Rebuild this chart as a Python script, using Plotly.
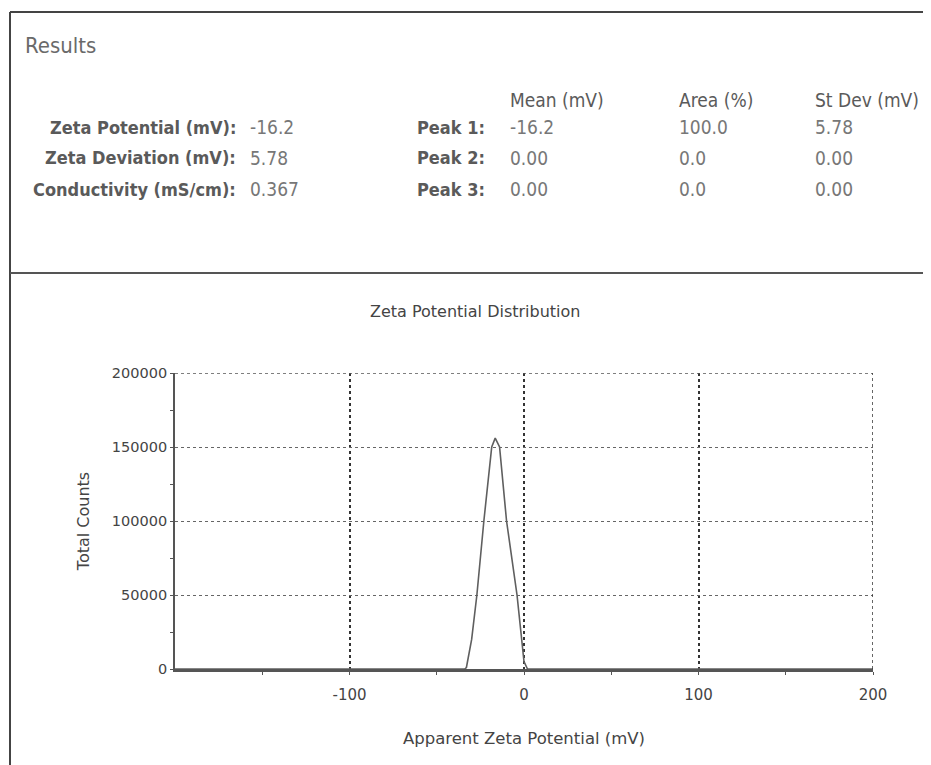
import plotly.graph_objects as go

# ---- data ----
potential_mv = [-200, -34, -33, -30, -27, -23, -18.5, -16.5, -14, -10, -4, 0, 2, 200]
total_counts = [0, 0, 1000, 20000, 50000, 100000, 150000, 156000, 150000, 100000, 50000, 5000, 0, 0]

summary_labels = ["Zeta Potential (mV):", "Zeta Deviation (mV):", "Conductivity (mS/cm):"]
summary_values = ["-16.2", "5.78", "0.367"]
peak_labels = ["Peak 1:", "Peak 2:", "Peak 3:"]
peak_mean = ["-16.2", "0.00", "0.00"]
peak_area = ["100.0", "0.0", "0.0"]
peak_sd = ["5.78", "0.00", "0.00"]
col_headers = ["Mean (mV)", "Area (%)", "St Dev (mV)"]

x_ticks = [-100, 0, 100, 200]
x_tick_labels = ["-100", "0", "100", "200"]
x_minor = [-150, -50, 50, 150]
y_ticks = [0, 50000, 100000, 150000, 200000]
y_tick_labels = ["0", "50000", "100000", "150000", "200000"]
y_minor = [25000, 75000, 125000, 175000]
x_range = [-200, 200]
y_range = [0, 200000]

W, H = 931, 765
OFF = 8  # page body margin of the browser
COND = "DejaVu Sans Condensed, DejaVu Sans, sans-serif"
SANS = "DejaVu Sans, sans-serif"
LBL = "#5a5a5a"
VAL = "#777777"


def px(x):
    return (x - OFF) / W


def py(y):
    return 1 - (y - OFF) / H


fig = go.Figure()
fig.add_trace(go.Scatter(x=potential_mv, y=total_counts, mode="lines",
                         line=dict(color="#5f5f5f", width=1.6), showlegend=False,
                         hoverinfo="skip"))

ann = []
ann.append(dict(x=px(23), y=py(45), text="Results", xanchor="left", yanchor="middle",
                font=dict(family=COND, size=22, color="#6a6a6a")))
rows_y = [127, 158, 189]
col_x = [508, 677, 813]
for cx, h in zip(col_x, col_headers):
    ann.append(dict(x=px(cx), y=py(100), text=h, xanchor="left", yanchor="middle",
                    font=dict(family=COND, size=19, color=LBL)))
for i, ry in enumerate(rows_y):
    ann.append(dict(x=px(238), y=py(ry), text="<b>" + summary_labels[i] + "</b>", xanchor="right",
                    yanchor="middle", font=dict(family=COND, size=18, color=LBL)))
    ann.append(dict(x=px(248), y=py(ry), text=summary_values[i], xanchor="left",
                    yanchor="middle", font=dict(family=COND, size=19, color=VAL)))
    ann.append(dict(x=px(487), y=py(ry), text="<b>" + peak_labels[i] + "</b>", xanchor="right",
                    yanchor="middle", font=dict(family=COND, size=18, color=LBL)))
    for cx, arr in zip(col_x, [peak_mean, peak_area, peak_sd]):
        ann.append(dict(x=px(cx), y=py(ry), text=arr[i], xanchor="left",
                        yanchor="middle", font=dict(family=COND, size=19, color=VAL)))

ann.append(dict(x=px(475), y=py(312), text="Zeta Potential Distribution", xanchor="center",
                yanchor="middle", font=dict(family=SANS, size=16, color="#444444")))
for a in ann:
    a.update(xref="paper", yref="paper", showarrow=False)

shapes = [
    dict(type="line", xref="paper", yref="paper", x0=px(10), x1=px(10), y0=py(12), y1=py(780),
         line=dict(color="#444444", width=2)),
    dict(type="line", xref="paper", yref="paper", x0=px(10), x1=px(940), y0=py(12), y1=py(12),
         line=dict(color="#444444", width=2)),
    dict(type="line", xref="paper", yref="paper", x0=px(10), x1=px(940), y0=py(273), y1=py(273),
         line=dict(color="#555555", width=2)),
    # dotted frame edges at the top and right of the plot, on the axis scales
    dict(type="line", xref="x", yref="y", x0=x_range[0], x1=x_range[1], y0=y_range[1], y1=y_range[1],
         line=dict(color="#555555", width=1.3, dash="dot")),
    dict(type="line", xref="x", yref="y", x0=x_range[1], x1=x_range[1], y0=y_range[0], y1=y_range[1],
         line=dict(color="#333333", width=1.5, dash="dot")),
]

fig.update_layout(
    width=W, height=H, autosize=False,
    margin=dict(l=0, r=0, t=0, b=0, pad=0),
    paper_bgcolor="white", plot_bgcolor="white",
    font=dict(family=SANS, color="#444444", size=13),
    annotations=ann, shapes=shapes,
    xaxis=dict(domain=[px(175), px(873)], range=x_range, tickvals=x_ticks, ticktext=x_tick_labels,
               automargin=False,
               showgrid=True, gridcolor="#333333", griddash="dot", gridwidth=1.5,
               zeroline=False, showline=True, linecolor="#555555", linewidth=2.5,
               ticks="outside", ticklen=3, tickcolor="#555555", ticklabelstandoff=7,
               minor=dict(tickvals=x_minor, ticks="outside", ticklen=3,
                          tickcolor="#555555", showgrid=False),
               tickfont=dict(family=SANS, size=15, color="#444444"),
               title=dict(text="Apparent Zeta Potential (mV)", font=dict(family=SANS, size=16.5, color="#444444"),
                          standoff=30)),
    yaxis=dict(domain=[py(669), py(373)], range=y_range, tickvals=y_ticks, ticktext=y_tick_labels,
               automargin=False,
               showgrid=True, gridcolor="#666666", griddash="dot", gridwidth=1.3,
               zeroline=False, showline=True, linecolor="#555555", linewidth=1.8,
               ticks="outside", ticklen=3, tickcolor="#555555",
               minor=dict(tickvals=y_minor, ticks="outside", ticklen=3,
                          tickcolor="#555555", showgrid=False),
               tickfont=dict(family=SANS, size=14.5, color="#444444"),
               title=dict(text="Total Counts", font=dict(family=SANS, size=16, color="#444444"),
                          standoff=18)),
)

fig.write_html("out.html")
